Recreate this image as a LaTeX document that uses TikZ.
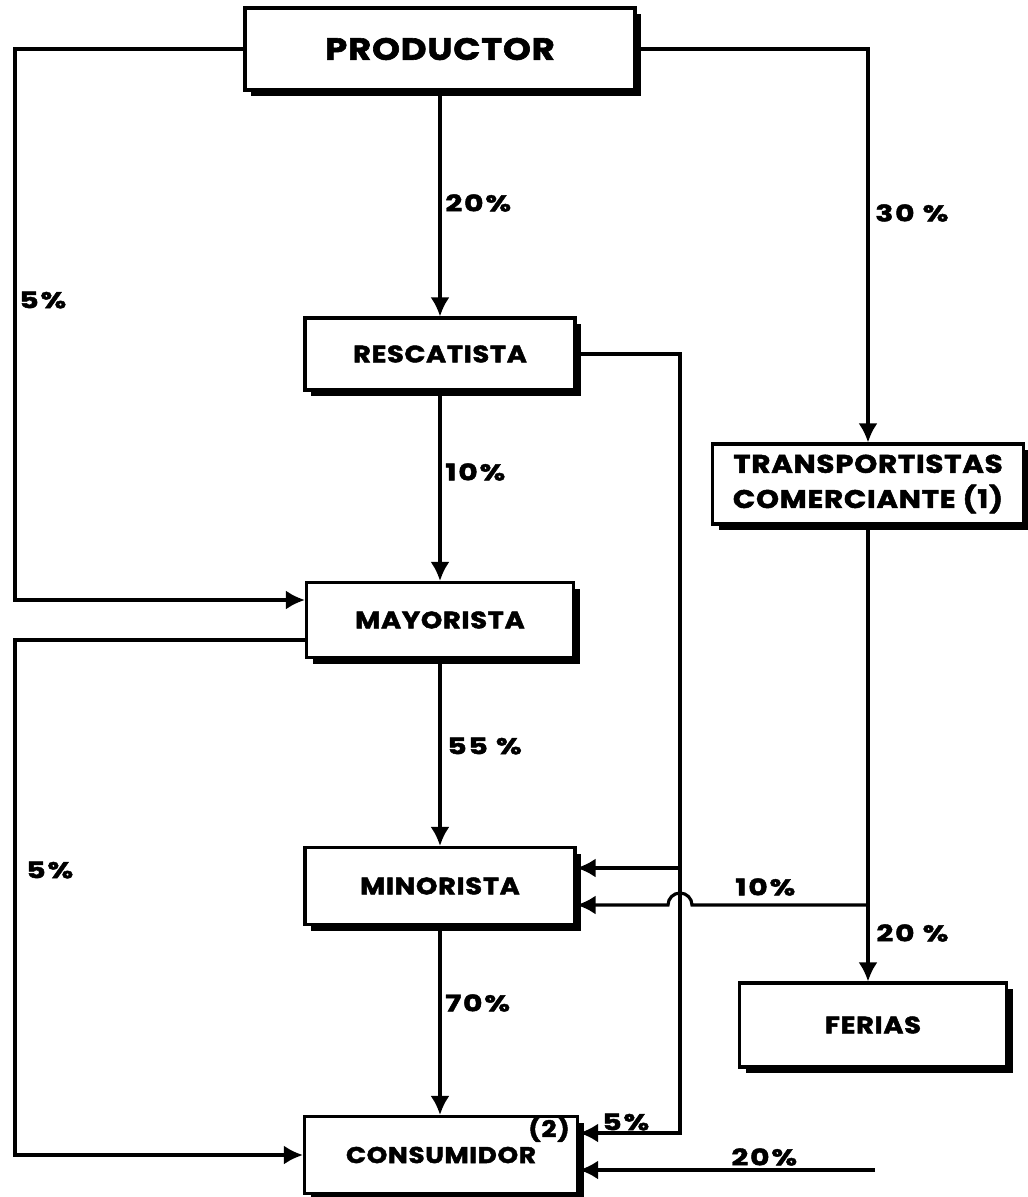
\documentclass[tikz,border=0pt]{standalone}
\usepackage{fontspec}
\setmainfont{Poppins}
\newfontfamily\boxfont{Poppins}[LetterSpace=3,FakeStretch=1.15,BoldFeatures={FakeBold=2}]
\newfontfamily\pctfont{Poppins}[LetterSpace=8,FakeStretch=1.3,BoldFeatures={FakeBold=2}]
\usetikzlibrary{arrows.meta,calc,shadows}
\tikzset{
  box/.style={draw=black,fill=white,line width=1.8pt,align=center,inner sep=4pt,
    font=\boxfont\bfseries\fontsize{13.5}{20}\selectfont,
    drop shadow={shadow xshift=1.2mm,shadow yshift=-1.2mm,fill=black,opacity=1}},
  flow/.style={-{Latex[length=3.8mm,width=3.8mm]},line width=1.8pt,draw=black},
  pct/.style={font=\pctfont\bfseries\fontsize{13}{15}\selectfont,inner sep=0pt,anchor=west},
}
\begin{document}
\begin{tikzpicture}[x=0.2mm,y=-0.2mm]
  \useasboundingbox (0,0) rectangle (1028,1197);
  % boxes
  \node[box,minimum width=78mm,minimum height=16.4mm,
    font=\boxfont\bfseries\fontsize{17.5}{22}\selectfont] (prod) at (440,49) {PRODUCTOR};
  \node[box,minimum width=54mm,minimum height=14.4mm] (resc) at (440,354) {RESCATISTA};
  \node[box,minimum width=53.4mm,minimum height=15mm] (mayor) at (440,620) {MAYORISTA};
  \node[box,minimum width=54mm,minimum height=15.4mm] (minor) at (440,886) {MINORISTA};
  \node[box,minimum width=54.6mm,minimum height=15.4mm,
    font=\boxfont\bfseries\fontsize{13}{20}\selectfont] (cons) at (441,1155) {CONSUMIDOR};
  \node[box,minimum width=62.2mm,minimum height=16mm,
    font=\boxfont\bfseries\fontsize{14.5}{20}\selectfont] (trans) at (868,484) {TRANSPORTISTAS\\COMERCIANTE (1)};
  \node[box,minimum width=53.4mm,minimum height=16.8mm] (ferias) at (873,1025) {FERIAS};
  % helper points
  \coordinate (lft) at (15,0);
  \coordinate (mid) at (680,0);
  \coordinate (mayin) at ($(mayor.west)+(0,-20)$);
  \coordinate (mayout) at ($(mayor.west)+(0,20)$);
  \coordinate (minin1) at ($(minor.east)+(0,-18)$);
  \coordinate (minin2) at ($(minor.east)+(0,19)$);
  \coordinate (consin1) at ($(cons.east)+(0,-22)$);
  \coordinate (consin2) at ($(cons.east)+(0,15)$);
  \coordinate (j1) at (mid |- minin1);
  \coordinate (j2) at (trans.south |- minin2);
  \coordinate (feed) at (875,1170);
  % connectors
  \draw[flow] (prod.west) -| (lft |- mayin) -- (mayin);
  \draw[flow] (prod.east) -| (trans.north);
  \draw[flow] (prod.south) -- (resc.north);
  \draw[flow] (resc.south) -- (mayor.north);
  \draw[flow] (mayor.south) -- (minor.north);
  \draw[flow] (minor.south) -- (minor.south |- cons.north);
  \draw[flow] (resc.east) -| (j1) -- (minin1);
  \draw[flow] (j1) |- (consin1);
  \draw[flow] (mayout) -- (mayout -| lft) |- (cons.west);
  \draw[flow] (trans.south) -- (trans.south |- ferias.north);
  \draw[flow] (j2) -- ($(mid |- minin2)+(12,0)$) arc[start angle=0,end angle=180,radius=2.4mm] -- (minin2);
  \draw[flow] (feed) -- (consin2);
  % shares
  \node[pct] (p1) at (445,203) {20\%};
  \node[pct] (p2) at (19,300) {5\%};
  \node[pct] (p3) at (875,213) {30 \%};
  \node[pct] (p4) at (445,472) {10\%};
  \node[pct] (p5) at (447,746) {55 \%};
  \node[pct] (p6) at (26,870) {5\%};
  \node[pct] (p7) at (735,887) {10\%};
  \node[pct] (p8) at (876,933) {20 \%};
  \node[pct] (p9) at (445,1003) {70\%};
  \node[pct] (p10) at (602,1122) {5\%};
  \node[pct] (p11) at (731,1157) {20\%};
  \node[pct,anchor=center,font=\boxfont\bfseries\fontsize{13}{15}\selectfont] (n2) at (549,1129) {(2)};
\end{tikzpicture}
\end{document}
